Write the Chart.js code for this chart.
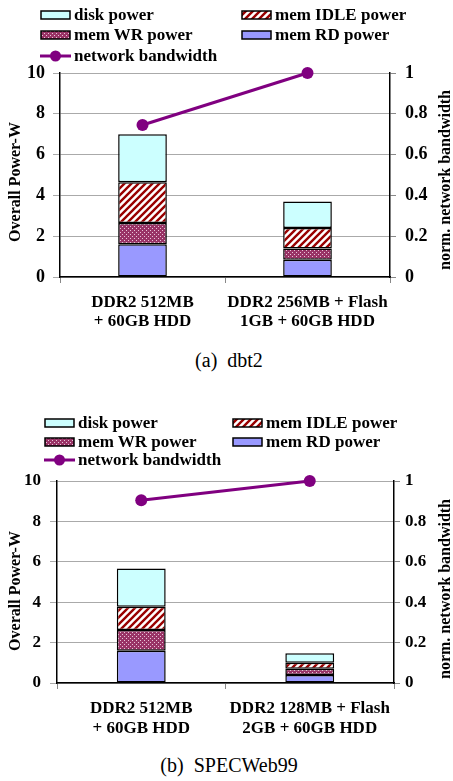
<!DOCTYPE html>
<html>
<head>
<meta charset="utf-8">
<script src="https://cdn.jsdelivr.net/npm/chart.js@4"></script>
<style>
  body { margin: 0; background: #fff; }
  #page { position: relative; width: 453px; height: 781px; overflow: hidden; font-family: "Liberation Serif", "Times New Roman", serif; }
  canvas.plot { position: absolute; left: 0; }
  .leg { position: absolute; display: flex; align-items: center; font-weight: bold; font-size: 17px; white-space: nowrap; transform: translateY(-50%); }
  .leg canvas { margin-right: 3px; }
  .vtitle { position: absolute; font-weight: bold; font-size: 16px; white-space: nowrap; transform: translate(-50%, -50%) rotate(-90deg); }
  .caption { position: absolute; font-size: 20px; white-space: pre; transform: translate(-50%, -50%); }
</style>
</head>
<body>
<div id="page">
  <canvas id="chartA" class="plot" width="453" height="342" style="top:0px"></canvas>
  <canvas id="chartB" class="plot" width="453" height="348" style="top:400px"></canvas>
</div>
<script>
// (a) dbt2
const categoriesA = [['DDR2 512MB', '+ 60GB HDD'], ['DDR2 256MB + Flash', '1GB + 60GB HDD']];
const memRdA = [1.6, 0.85];
const memWrA = [1.05, 0.55];
const memIdleA = [2.0, 1.0];
const diskA = [2.35, 1.3];
const bandwidthA = [0.745, 1.0];

// (b) SPECWeb99
const categoriesB = [['DDR2 512MB', '+ 60GB HDD'], ['DDR2 128MB + Flash', '2GB + 60GB HDD']];
const memRdB = [1.6, 0.4];
const memWrB = [1.02, 0.3];
const memIdleB = [1.16, 0.3];
const diskB = [1.89, 0.47];
const bandwidthB = [0.905, 1.0];

// Achsen
const powerMax = 10, powerStep = 2;
const bwMax = 1, bwStep = 0.2;

const seriesNames = ['disk power', 'mem IDLE power', 'mem WR power', 'mem RD power', 'network bandwidth'];
const leftTitle = 'Overall Power-W';
const rightTitle = 'norm. network bandwidth';

const FONT = '"Liberation Serif", "Times New Roman", serif';
const PURPLE = '#800080';

function stripePattern(ctx) {
    const c = document.createElement('canvas');
    c.width = 7; c.height = 7;
    const g = c.getContext('2d');
    g.fillStyle = '#fff';
    g.fillRect(0, 0, 7, 7);
    g.strokeStyle = '#990000';
    g.lineWidth = 2.4;
    g.beginPath();
    g.moveTo(-1, 8); g.lineTo(8, -1);
    g.moveTo(-1, 1); g.lineTo(1, -1);
    g.moveTo(6, 8); g.lineTo(8, 6);
    g.stroke();
    return ctx.createPattern(c, 'repeat');
}

function dotPattern(ctx) {
    const c = document.createElement('canvas');
    c.width = 4; c.height = 4;
    const g = c.getContext('2d');
    g.fillStyle = '#993366';
    g.fillRect(0, 0, 4, 4);
    g.fillStyle = '#e8c4d8';
    g.fillRect(0, 0, 1, 1);
    g.fillRect(2, 2, 1, 1);
    return ctx.createPattern(c, 'repeat');
}

function fills(ctx) {
    return {
        disk: '#ccffff',
        idle: stripePattern(ctx),
        wr: dotPattern(ctx),
        rd: '#9999ff'
    };
}

// Legende als HTML
function addLegend(page, rows, cols, textGap) {
    const items = [
        { kind: 'disk', x: cols[0], y: rows[0] },
        { kind: 'idle', x: cols[1], y: rows[0] },
        { kind: 'wr', x: cols[0], y: rows[1] },
        { kind: 'rd', x: cols[1], y: rows[1] },
        { kind: 'line', x: cols[0], y: rows[2] }
    ];
    const labels = { disk: seriesNames[0], idle: seriesNames[1], wr: seriesNames[2], rd: seriesNames[3], line: seriesNames[4] };
    items.forEach(it => {
        const div = document.createElement('div');
        div.className = 'leg';
        div.style.left = it.x + 'px';
        div.style.top = it.y + 'px';
        const sw = document.createElement('canvas');
        sw.width = 31; sw.height = 12;
        sw.style.marginRight = textGap + 'px';
        const g = sw.getContext('2d');
        if (it.kind === 'line') {
            g.strokeStyle = PURPLE;
            g.lineWidth = 3;
            g.beginPath(); g.moveTo(0, 6); g.lineTo(31, 6); g.stroke();
            g.fillStyle = PURPLE;
            g.beginPath(); g.arc(15.5, 6, 5.5, 0, Math.PI * 2); g.fill();
        } else {
            g.fillStyle = fills(g)[it.kind];
            g.fillRect(1, 2, 29, 8);
            g.strokeStyle = '#000';
            g.lineWidth = 1.5;
            g.strokeRect(1, 2, 29, 8);
        }
        div.appendChild(sw);
        const span = document.createElement('span');
        span.textContent = labels[it.kind];
        div.appendChild(span);
        page.appendChild(div);
    });
}

function addText(page, cls, text, x, y) {
    const d = document.createElement('div');
    d.className = cls;
    d.textContent = text;
    d.style.left = x + 'px';
    d.style.top = y + 'px';
    page.appendChild(d);
}

function makeChart(id, cats, rd, wr, idle, disk, bw, g) {
    const ctx = document.getElementById(id).getContext('2d');
    const f = fills(ctx);
    const bar = (label, data, bg) => ({
        type: 'bar', label, data, backgroundColor: bg,
        borderColor: '#000', borderWidth: 1.5, borderSkipped: false,
        yAxisID: 'y', order: 1, barPercentage: g.barPct, categoryPercentage: 1
    });
    return new Chart(ctx, {
        data: {
            labels: cats,
            datasets: [
                bar(seriesNames[3], rd, f.rd),
                bar(seriesNames[2], wr, f.wr),
                bar(seriesNames[1], idle, f.idle),
                bar(seriesNames[0], disk, f.disk),
                {
                    type: 'line', label: seriesNames[4], data: bw, yAxisID: 'y1', order: 0,
                    borderColor: PURPLE, backgroundColor: PURPLE, borderWidth: 3,
                    pointRadius: 6, pointBackgroundColor: PURPLE, pointBorderWidth: 0,
                    clip: false, stack: 'bw'
                }
            ]
        },
        options: {
            responsive: false,
            animation: false,
            layout: { padding: { top: g.top, left: 0, right: 0, bottom: 0 } },
            plugins: { legend: { display: false }, tooltip: { enabled: false } },
            scales: {
                x: {
                    stacked: true,
                    offset: true,
                    grid: { drawOnChartArea: false, tickLength: 6, color: '#888' },
                    border: { color: '#000', width: 1.5 },
                    ticks: {
                        color: '#000', padding: 10, maxRotation: 0, autoSkip: false,
                        font: { family: FONT, weight: 'bold', size: 17, lineHeight: g.catLine }
                    },
                    afterFit: s => { s.height = g.xH; }
                },
                y: {
                    stacked: true, position: 'left', min: 0, max: powerMax,
                    grid: { color: '#aaa', tickLength: 7 },
                    border: { color: '#000', width: 1.5 },
                    ticks: { stepSize: powerStep, color: '#000', padding: g.lPad, font: { family: FONT, weight: 'bold', size: g.tickSize } },
                    afterFit: s => { s.width = g.left; }
                },
                y1: {
                    stacked: false, position: 'right', min: 0, max: bwMax,
                    grid: { drawOnChartArea: false, color: '#888', tickLength: 6 },
                    border: { color: '#000', width: 1.5 },
                    ticks: {
                        stepSize: bwStep, color: '#000', padding: g.rPad,
                        font: { family: FONT, weight: 'bold', size: g.tickSize },
                        callback: v => String(+Number(v).toFixed(1))
                    },
                    afterFit: s => { s.width = 453 - g.right; }
                }
            }
        }
    });
}

const page = document.getElementById('page');

makeChart('chartA', categoriesA, memRdA, memWrA, memIdleA, diskA, bandwidthA,
    { top: 73, left: 60, right: 390, xH: 65, barPct: 0.295, catLine: 1.12, tickSize: 18, lPad: 8, rPad: 9 });
makeChart('chartB', categoriesB, memRdB, memWrB, memIdleB, diskB, bandwidthB,
    { top: 81, left: 57, right: 394, xH: 65, barPct: 0.29, catLine: 1.18, tickSize: 17, lPad: 9, rPad: 5 });

addLegend(page, [15, 35, 56], [40, 241], 3);
addLegend(page, [423, 442, 460], [44, 232], 3);

addText(page, 'vtitle', leftTitle, 15, 182);
addText(page, 'vtitle', rightTitle, 445, 180);
addText(page, 'vtitle', leftTitle, 15, 591);
addText(page, 'vtitle', rightTitle, 445, 589);

addText(page, 'caption', '(a)  dbt2', 229, 360);
addText(page, 'caption', '(b)  SPECWeb99', 229, 765);
</script>
</body>
</html>
